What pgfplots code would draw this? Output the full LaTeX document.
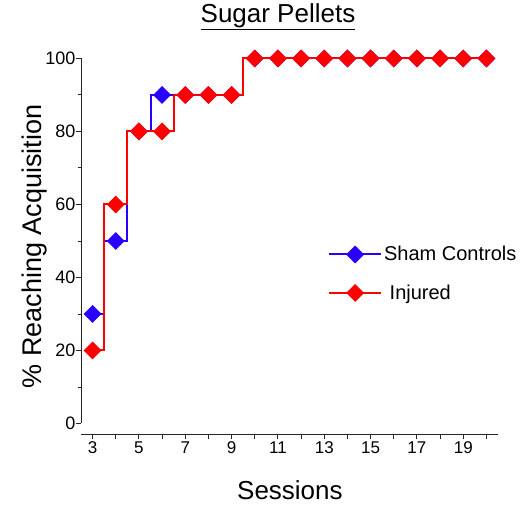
\documentclass[border=0pt]{standalone}
\usepackage{pgfplots}
\pgfplotsset{compat=1.18}
\usepackage{fontspec}
\setmainfont{Liberation Sans}
\definecolor{shamblue}{RGB}{40,0,255}
\definecolor{injred}{RGB}{255,0,0}

\begin{document}
\begin{tikzpicture}
\begin{axis}[
  scale only axis,
  width=417pt, height=376pt,
  xmin=2.5, xmax=20.5, ymin=-3, ymax=100,
  axis x line*=bottom, axis y line*=left,
  axis line style={draw=none},
  clip=false,
  tick align=outside,
  xtick={3,5,...,19}, minor xtick={4,6,...,20},
  ytick={0,20,...,100}, minor ytick={10,30,...,90},
  major tick length=5pt, minor tick length=3pt,
  x tick style={line width=0.9pt, black!85, /pgfplots/minor tick length=5pt},
  y tick style={line width=0.9pt, black!85},
  /pgf/number format/assume math mode=true,
  xticklabel style={font=\fontsize{17}{20}\selectfont, yshift=1pt},
  yticklabel style={font=\fontsize{18}{21}\selectfont, xshift=3pt},
  title={\underline{Sugar Pellets}},
  title style={at={(axis description cs:0.4724,1.0957)}, anchor=center, font=\fontsize{26}{30}\selectfont},
  xlabel={Sessions},
  xlabel style={at={(axis description cs:0.501,-0.149)}, anchor=center, font=\fontsize{26}{30}\selectfont},
  ylabel={\% Reaching Acquisition},
  ylabel style={at={(axis description cs:-0.1115,0.5)}, rotate=0, anchor=center, font=\fontsize{27}{32}\selectfont},
  legend style={at={(axis description cs:0.585,0.511)}, anchor=north west, draw=none, fill=none,
    font=\fontsize{20}{24}\selectfont, row sep=18.5pt, cells={anchor=west}},
  legend image code/.code={\draw[mark repeat=2,mark phase=2] plot coordinates {(0pt,0pt)(26pt,0pt)(52pt,0pt)};},
]
\addplot[shamblue, line width=2pt, const plot mark mid, mark=square*, mark size=5.3pt, mark options={rotate=45, solid}]
  coordinates {(3,30) (4,50) (5,80) (6,90) (7,90) (8,90) (9,90) (10,100) (11,100) (12,100) (13,100) (14,100) (15,100) (16,100) (17,100) (18,100) (19,100) (20,100)};
\addlegendentry{Sham Controls}
\addplot[injred, line width=2pt, const plot mark mid, mark=square*, mark size=5.3pt, mark options={rotate=45, solid}]
  coordinates {(3,20) (4,60) (5,80) (6,80) (7,90) (8,90) (9,90) (10,100) (11,100) (12,100) (13,100) (14,100) (15,100) (16,100) (17,100) (18,100) (19,100) (20,100)};
\addlegendentry{\ Injured}
\draw[line width=0.9pt, black!85] (axis cs:2.5,0) -- (axis cs:2.5,100);
\draw[line width=0.9pt, black!85] (axis cs:2.5,-3) -- (axis cs:20.5,-3);
\end{axis}
\path (current axis.south west) ++(-81pt,-70pt) rectangle ++(530pt,502pt);
\end{tikzpicture}
\end{document}
